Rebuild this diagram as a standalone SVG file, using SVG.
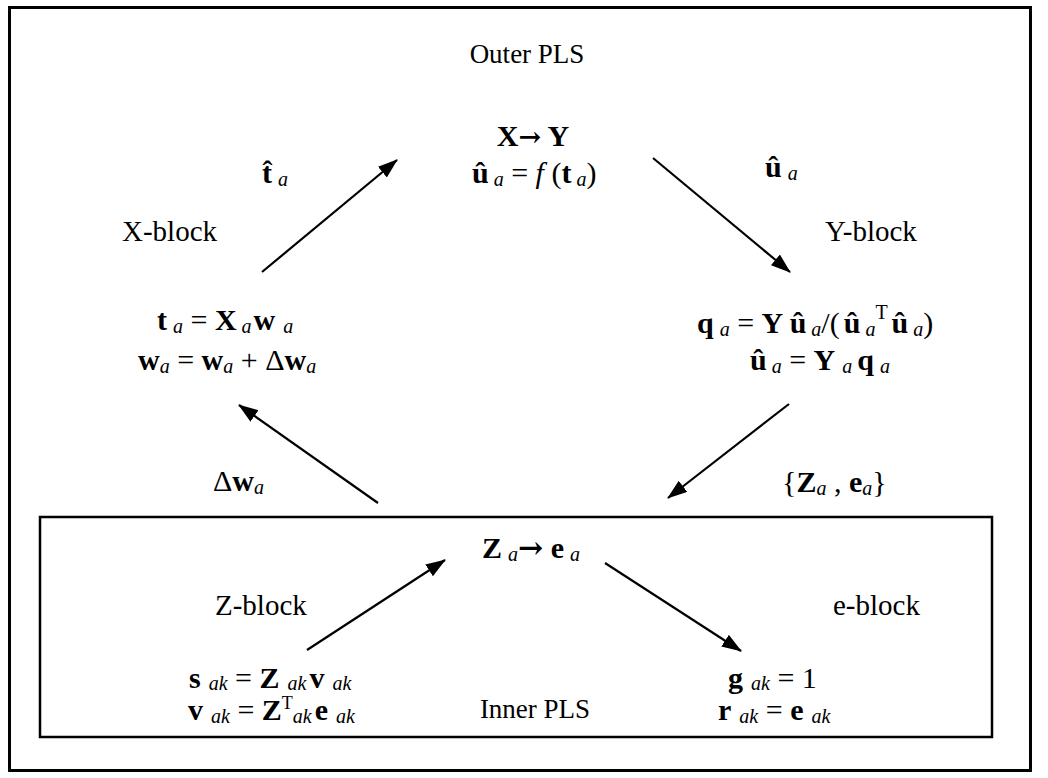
<svg xmlns="http://www.w3.org/2000/svg" width="1048" height="778" viewBox="0 0 1048 778">
<defs>
<marker id="ah" viewBox="0 0 20 14" refX="19" refY="7" markerWidth="20" markerHeight="14" markerUnits="userSpaceOnUse" orient="auto">
<path d="M0,0 L20,7 L0,14 Z" fill="#000"/>
</marker>
<style>
.t{font-family:"Liberation Serif","Times New Roman",serif;font-size:29px;fill:#000}
.p{font-family:"Liberation Serif","Times New Roman",serif;font-size:27px;fill:#000}
.m{font-family:"Liberation Serif","Times New Roman",serif;font-size:30px;fill:#000}
.b{font-weight:bold}
.s{font-style:italic;font-size:20px}
.c{stroke:#000;stroke-width:2.2;fill:none;marker-end:url(#ah)}
</style>
</defs>
<rect x="9.5" y="7.5" width="1021" height="763" fill="#fff" stroke="#000" stroke-width="3"/>
<g id="outer-label"><text class="p" x="527" y="63" text-anchor="middle">Outer PLS</text></g>
<g id="xy-node">
<text class="m b" x="533" y="146" text-anchor="middle">X<tspan font-family="DejaVu Serif" font-size="27">→</tspan> Y</text>
<text class="m" x="472" y="183"><tspan class="b">û</tspan><tspan class="s" dx="5" dy="3">a</tspan><tspan dy="-3"> = </tspan><tspan font-style="italic">f</tspan> (<tspan class="b">t</tspan><tspan class="s" dx="5" dy="3">a</tspan><tspan dy="-3">)</tspan></text>
</g>
<g id="t-hat-label"><text class="m" x="262" y="183"><tspan class="b">t&#x302;</tspan><tspan class="s" dx="6" dy="3">a</tspan></text></g>
<g id="u-hat-label"><text class="m" x="765" y="177"><tspan class="b">û</tspan><tspan class="s" dx="6" dy="3">a</tspan></text></g>
<g id="x-block">
<text class="t" x="122" y="241">X-block</text>
<text class="m" x="157" y="330"><tspan class="b">t</tspan><tspan class="s" dx="6" dy="3">a</tspan><tspan dy="-3"> = </tspan><tspan class="b">X</tspan><tspan class="s" dx="5" dy="3">a</tspan><tspan class="b" dx="2" dy="-3">w</tspan><tspan class="s" dx="8" dy="3">a</tspan></text>
<text class="m" x="138" y="370"><tspan class="b">w</tspan><tspan class="s" dy="3">a</tspan><tspan dy="-3"> = </tspan><tspan class="b">w</tspan><tspan class="s" dy="3">a</tspan><tspan dy="-3"> + Δ</tspan><tspan class="b">w</tspan><tspan class="s" dy="3">a</tspan></text>
</g>
<g id="y-block">
<text class="t" x="825" y="241">Y-block</text>
<text class="m" x="697" y="333"><tspan class="b">q</tspan><tspan class="s" dx="6" dy="3">a</tspan><tspan dy="-3"> = </tspan><tspan class="b">Y</tspan><tspan class="b"> û</tspan><tspan class="s" dx="5" dy="3">a</tspan><tspan dy="-3">/(</tspan><tspan class="b" dx="4">û</tspan><tspan class="s" dx="5" dy="3">a</tspan><tspan font-size="20" dy="-17">T</tspan><tspan class="b" dx="4" dy="14">û</tspan><tspan class="s" dx="5" dy="3">a</tspan><tspan dy="-3">)</tspan></text>
<text class="m" x="750" y="370"><tspan class="b">û</tspan><tspan class="s" dx="5" dy="3">a</tspan><tspan dy="-3"> = </tspan><tspan class="b">Y</tspan><tspan class="s" dx="7" dy="3">a</tspan><tspan class="b" dx="5" dy="-3">q</tspan><tspan class="s" dx="6" dy="3">a</tspan></text>
</g>
<g id="delta-w-label"><text class="m" x="213" y="491">Δ<tspan class="b">w</tspan><tspan class="s" dy="3">a</tspan></text></g>
<g id="ze-label"><text class="m" x="782" y="492">{<tspan class="b">Z</tspan><tspan class="s" dy="3">a</tspan><tspan dy="-3"> , </tspan><tspan class="b">e</tspan><tspan class="s" dy="3">a</tspan><tspan dy="-3">}</tspan></text></g>
<g id="inner-pls">
<rect x="40" y="517" width="952" height="220" fill="none" stroke="#000" stroke-width="2.5"/>
<text class="m" x="482" y="558"><tspan class="b">Z</tspan><tspan class="s" dx="6" dy="3">a</tspan><tspan font-family="DejaVu Serif" font-size="30" font-weight="bold" dy="-3">→</tspan><tspan class="b"> e</tspan><tspan class="s" dx="6" dy="3">a</tspan></text>
<text class="p" x="535" y="718" text-anchor="middle">Inner PLS</text>
</g>
<g id="z-block">
<text class="t" x="215" y="615">Z-block</text>
<text class="m" x="189" y="688"><tspan class="b">s</tspan><tspan class="s" dx="8" dy="2">ak</tspan><tspan dy="-2"> = </tspan><tspan class="b">Z</tspan><tspan class="s" dx="8" dy="2">ak</tspan><tspan class="b" dx="3" dy="-2">v</tspan><tspan class="s" dx="8" dy="2">ak</tspan></text>
<text class="m" x="188" y="720"><tspan class="b">v</tspan><tspan class="s" dx="8" dy="3">ak</tspan><tspan dy="-3"> = </tspan><tspan class="b">Z</tspan><tspan font-size="18" dy="-11">T</tspan><tspan class="s" dy="14">ak</tspan><tspan class="b" dx="3" dy="-3">e</tspan><tspan class="s" dx="8" dy="3">ak</tspan></text>
</g>
<g id="e-block">
<text class="t" x="833" y="615">e-block</text>
<text class="m" x="728" y="688"><tspan class="b">g</tspan><tspan class="s" dx="8" dy="2">ak</tspan><tspan dy="-2"> = 1</tspan></text>
<text class="m" x="718" y="720"><tspan class="b">r</tspan><tspan class="s" dx="8" dy="3">ak</tspan><tspan dy="-3"> = </tspan><tspan class="b">e</tspan><tspan class="s" dx="8" dy="3">ak</tspan></text>
</g>
<g id="connectors">
<line class="c" x1="262" y1="272" x2="397" y2="160"/>
<line class="c" x1="653" y1="158" x2="790" y2="272"/>
<line class="c" x1="789" y1="404" x2="668" y2="498"/>
<line class="c" x1="378" y1="503" x2="239" y2="405"/>
<line class="c" x1="307" y1="650" x2="445" y2="560"/>
<line class="c" x1="605" y1="563" x2="741" y2="651"/>
</g>
</svg>
